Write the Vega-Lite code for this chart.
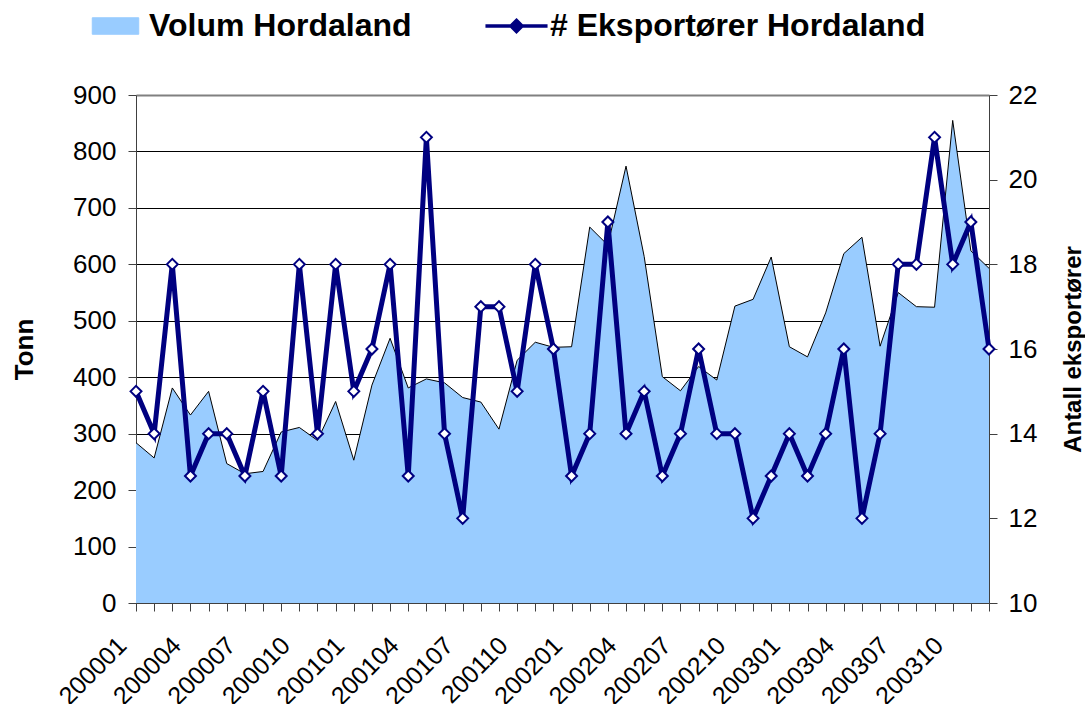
{
  "$schema": "https://vega.github.io/schema/vega-lite/v6.json",
  "width": 853,
  "height": 508,
  "autosize": {"type": "none"},
  "padding": {"left": 136, "top": 95, "right": 96, "bottom": 101},
  "background": "white",
  "config": {
    "view": {"stroke": null},
    "font": "Liberation Sans",
    "axis": {"labelFont": "Liberation Sans", "titleFont": "Liberation Sans", "labelColor": "black", "titleColor": "black"}
  },
  "data": {
    "values": [
      {"m": "200001", "vol": 284, "exp": 15},
      {"m": "200002", "vol": 257, "exp": 14},
      {"m": "200003", "vol": 381, "exp": 18},
      {"m": "200004", "vol": 333, "exp": 13},
      {"m": "200005", "vol": 375, "exp": 14},
      {"m": "200006", "vol": 247, "exp": 14},
      {"m": "200007", "vol": 229, "exp": 13},
      {"m": "200008", "vol": 233, "exp": 15},
      {"m": "200009", "vol": 303, "exp": 13},
      {"m": "200010", "vol": 311, "exp": 18},
      {"m": "200011", "vol": 288, "exp": 14},
      {"m": "200012", "vol": 357, "exp": 18},
      {"m": "200101", "vol": 253, "exp": 15},
      {"m": "200102", "vol": 386, "exp": 16},
      {"m": "200103", "vol": 469, "exp": 18},
      {"m": "200104", "vol": 381, "exp": 13},
      {"m": "200105", "vol": 397, "exp": 21},
      {"m": "200106", "vol": 390, "exp": 14},
      {"m": "200107", "vol": 364, "exp": 12},
      {"m": "200108", "vol": 356, "exp": 17},
      {"m": "200109", "vol": 308, "exp": 17},
      {"m": "200110", "vol": 430, "exp": 15},
      {"m": "200111", "vol": 462, "exp": 18},
      {"m": "200112", "vol": 453, "exp": 16},
      {"m": "200201", "vol": 454, "exp": 13},
      {"m": "200202", "vol": 666, "exp": 14},
      {"m": "200203", "vol": 634, "exp": 19},
      {"m": "200204", "vol": 774, "exp": 14},
      {"m": "200205", "vol": 614, "exp": 15},
      {"m": "200206", "vol": 401, "exp": 13},
      {"m": "200207", "vol": 376, "exp": 14},
      {"m": "200208", "vol": 419, "exp": 16},
      {"m": "200209", "vol": 395, "exp": 14},
      {"m": "200210", "vol": 526, "exp": 14},
      {"m": "200211", "vol": 538, "exp": 12},
      {"m": "200212", "vol": 613, "exp": 13},
      {"m": "200301", "vol": 454, "exp": 14},
      {"m": "200302", "vol": 436, "exp": 13},
      {"m": "200303", "vol": 514, "exp": 14},
      {"m": "200304", "vol": 619, "exp": 16},
      {"m": "200305", "vol": 648, "exp": 12},
      {"m": "200306", "vol": 455, "exp": 14},
      {"m": "200307", "vol": 550, "exp": 18},
      {"m": "200308", "vol": 525, "exp": 18},
      {"m": "200309", "vol": 524, "exp": 21},
      {"m": "200310", "vol": 855, "exp": 18},
      {"m": "200311", "vol": 624, "exp": 19},
      {"m": "200312", "vol": 593, "exp": 16}
    ]
  },
  "encoding": {
    "x": {
      "field": "m",
      "type": "ordinal",
      "sort": null,
      "scale": {"type": "point", "padding": 0},
      "axis": {
        "title": null,
        "labelAngle": -45,
        "labelAlign": "right",
        "labelBaseline": "middle",
        "labelFontSize": 25,
        "labelExpr": "toNumber(datum.value) % 100 % 3 == 1 ? datum.value : ''",
        "labelOverlap": false,
        "labelFlush": false,
        "labelBound": false,
        "labelPadding": 30,
        "labelOffset": -14,
        "tickSize": 8,
        "tickColor": "#404040",
        "domainColor": "#404040",
        "grid": false
      }
    }
  },
  "layer": [
    {
      "mark": {"type": "area", "opacity": 1},
      "encoding": {
        "y": {
          "field": "vol",
          "type": "quantitative",
          "scale": {"domain": [0, 900], "nice": false},
          "axis": {
            "title": "Tonn",
            "titleFontSize": 26,
            "titleFontWeight": "bold",
            "titleAngle": -90,
            "titleX": -104,
            "titleY": 254,
            "titleBaseline": "alphabetic",
            "titleAlign": "center",
            "values": [0, 100, 200, 300, 400, 500, 600, 700, 800, 900],
            "labelFontSize": 26,
            "labelPadding": 12,
            "tickSize": 8,
            "tickColor": "#404040",
            "domainColor": "#404040",
            "grid": true,
            "gridColor": {"condition": {"test": "datum.value === 900", "value": "#808080"}, "value": "#000000"},
            "gridWidth": {"condition": {"test": "datum.value === 900", "value": 2}, "value": 1}
          }
        },
        "color": {
          "datum": "Volum Hordaland",
          "scale": {"domain": ["Volum Hordaland", "# Eksportører Hordaland"], "range": ["#99CCFF", "#000080"]},
          "legend": {
            "orient": "none",
            "legendX": -36.5,
            "legendY": -85,
            "direction": "horizontal",
            "columns": 2,
            "title": null,
            "padding": 0,
            "symbolSize": 3025,
            "labelFont": "Liberation Sans",
            "labelFontSize": 32,
            "labelFontWeight": "bold",
            "labelColor": "black",
            "labelOffset": 17.5,
            "labelLimit": 600,
            "columnPadding": 70,
            "encode": {
              "symbols": {
                "update": {
                  "shape": {"signal": "datum.value === 'Volum Hordaland' ? 'M-0.845,-0.3H0.845V0.3H-0.845Z' : 'M-1.1,-0.035H-0.25V0.035H-1.1Z M0.25,-0.035H1.1V0.035H0.25Z M0,-0.25L0.25,0L0,0.25L-0.25,0Z'"},
                  "fill": {"signal": "datum.value === 'Volum Hordaland' ? '#99CCFF' : 'white'"},
                  "stroke": {"signal": "datum.value === 'Volum Hordaland' ? '#404040' : '#000080'"},
                  "strokeWidth": {"signal": "datum.value === 'Volum Hordaland' ? 1 : 1.6"},
                  "opacity": {"value": 1},
                  "fillOpacity": {"value": 1},
                  "strokeOpacity": {"value": 1}
                }
              }
            }
          }
        }
      }
    },
    {
      "mark": {"type": "line", "stroke": "black", "strokeWidth": 1},
      "encoding": {
        "y": {"field": "vol", "type": "quantitative", "scale": {"domain": [0, 900], "nice": false}, "axis": null}
      }
    },
    {
      "mark": {
        "type": "line",
        "strokeWidth": 5,
        "point": {"shape": "diamond", "filled": false, "fill": "white", "size": 120, "strokeWidth": 2, "opacity": 1}
      },
      "encoding": {
        "y": {
          "field": "exp",
          "type": "quantitative",
          "scale": {"domain": [10, 22], "nice": false, "zero": false},
          "axis": {
            "orient": "right",
            "title": "Antall eksportører",
            "titleFontSize": 24,
            "titleFontWeight": "bold",
            "titleAngle": -90,
            "titleX": 91,
            "titleY": 254,
            "titleBaseline": "alphabetic",
            "titleAlign": "center",
            "values": [10, 12, 14, 16, 18, 20, 22],
            "labelFontSize": 26,
            "labelPadding": 11,
            "tickSize": 8,
            "tickColor": "#404040",
            "domainColor": "#404040",
            "grid": false
          }
        },
        "color": {
          "datum": "# Eksportører Hordaland",
          "legend": {
            "orient": "none",
            "legendX": -36.5,
            "legendY": -85,
            "direction": "horizontal",
            "columns": 2,
            "title": null,
            "padding": 0,
            "symbolSize": 3025,
            "labelFont": "Liberation Sans",
            "labelFontSize": 32,
            "labelFontWeight": "bold",
            "labelColor": "black",
            "labelOffset": 17.5,
            "labelLimit": 600,
            "columnPadding": 70,
            "encode": {
              "symbols": {
                "update": {
                  "shape": {"signal": "datum.value === 'Volum Hordaland' ? 'M-0.845,-0.3H0.845V0.3H-0.845Z' : 'M-1.1,-0.035H-0.25V0.035H-1.1Z M0.25,-0.035H1.1V0.035H0.25Z M0,-0.25L0.25,0L0,0.25L-0.25,0Z'"},
                  "fill": {"signal": "datum.value === 'Volum Hordaland' ? '#99CCFF' : 'white'"},
                  "stroke": {"signal": "datum.value === 'Volum Hordaland' ? '#404040' : '#000080'"},
                  "strokeWidth": {"signal": "datum.value === 'Volum Hordaland' ? 1 : 1.6"},
                  "opacity": {"value": 1},
                  "fillOpacity": {"value": 1},
                  "strokeOpacity": {"value": 1}
                }
              }
            }
          }
        }
      }
    }
  ],
  "resolve": {"scale": {"y": "independent"}}
}
